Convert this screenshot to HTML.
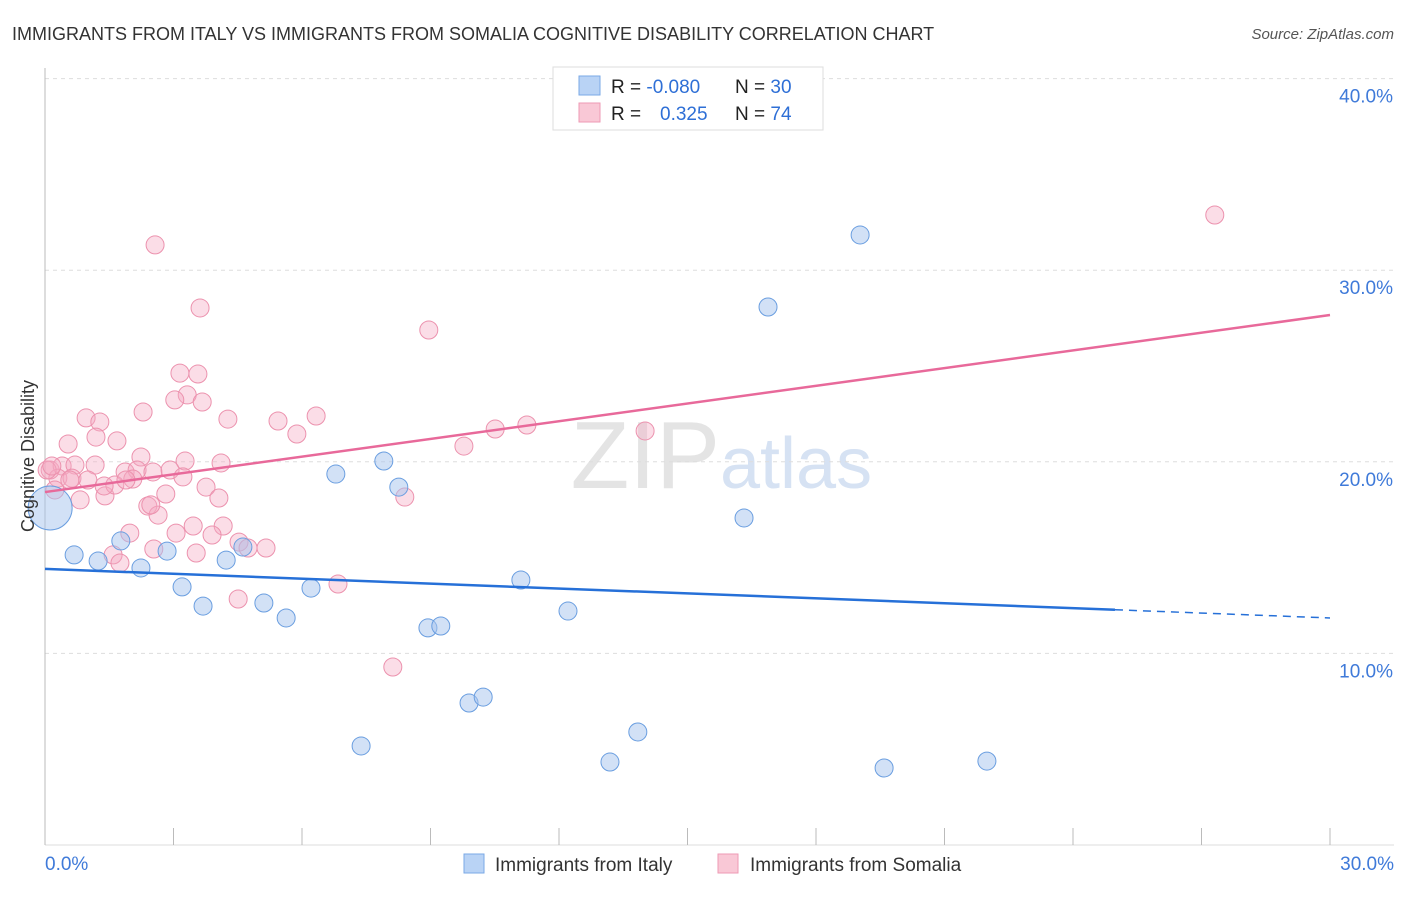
<!DOCTYPE html>
<html><head><meta charset="utf-8"><style>
body{margin:0;background:#fff;font-family:"Liberation Sans",sans-serif;}
svg text{font-family:"Liberation Sans",sans-serif;}
</style></head><body>
<svg id="chart" width="1406" height="892" xmlns="http://www.w3.org/2000/svg">
<text x="12" y="40" font-size="18" fill="#333">IMMIGRANTS FROM ITALY VS IMMIGRANTS FROM SOMALIA COGNITIVE DISABILITY CORRELATION CHART</text>
<text x="1394" y="39" font-size="15" fill="#555" font-style="italic" text-anchor="end">Source: ZipAtlas.com</text>
<text x="720" y="488" font-size="96" fill="#e4e4e4" text-anchor="end" font-family="Liberation Serif">ZIP</text>
<text x="720" y="488" font-size="72" fill="#d6e2f3">atlas</text>
<g id="grid"></g><g id="axes"></g><g id="pts"></g><g id="lines"></g>
<text x="34" y="456" font-size="18" fill="#333" text-anchor="middle" transform="rotate(-90 34 456)">Cognitive Disability</text>
<g>
<rect x="553" y="67" width="270" height="63" fill="#fff" stroke="#ddd"/>
<rect x="579" y="76" width="21" height="19" fill="#b9d3f5" stroke="#7aa8e6"/>
<rect x="579" y="103" width="21" height="19" fill="#f9c8d6" stroke="#ee9ab4"/>
<text x="611" y="93" font-size="19" fill="#222">R = <tspan fill="#2e6fd6">-0.080</tspan><tspan x="735">N = </tspan><tspan fill="#2e6fd6">30</tspan></text>
<text x="611" y="120" font-size="19" fill="#222">R = <tspan x="660" fill="#2e6fd6">0.325</tspan><tspan x="735">N = </tspan><tspan fill="#2e6fd6">74</tspan></text>
</g>
<g>
<rect x="464" y="854" width="20" height="19" fill="#b9d3f5" stroke="#7aa8e6"/>
<text x="495" y="871" font-size="19" fill="#333">Immigrants from Italy</text>
<rect x="718" y="854" width="20" height="19" fill="#f9c8d6" stroke="#ee9ab4"/>
<text x="750" y="871" font-size="19" fill="#333">Immigrants from Somalia</text>
</g>
</svg>
<script>
const yTicks=[10,20,30,40];
const xTickLabels=["0.0%","30.0%"];
const pinkX=[2.57,3.62,8.96,27.31,3.15,3.57,3.32,3.03,3.67,0.96,1.28,2.29,4.27,5.44,6.33,1.19,0.54,1.68,5.88,9.78,10.51,11.25,14.01,2.24,3.27,4.11,0.12,0.40,0.70,1.17,0.30,0.63,1.00,1.87,2.15,2.52,2.92,3.22,0.23,0.82,1.40,1.63,2.05,3.76,2.82,4.06,8.40,2.40,2.64,1.98,3.46,4.16,3.90,3.06,4.53,2.54,3.53,5.16,1.59,1.75,4.51,6.84,8.12,4.74,1.38,0.05,0.16,0.58,1.89,2.47];
const pinkY=[31.32,28.03,26.88,32.88,24.63,24.58,23.49,23.23,23.12,22.29,22.08,22.60,22.23,22.13,22.39,21.29,20.93,21.09,21.45,20.82,21.71,21.92,21.61,20.25,20.04,19.94,19.57,19.78,19.83,19.83,19.15,19.15,19.05,19.47,19.57,19.47,19.57,19.21,18.53,18.01,18.22,18.79,19.10,18.68,18.32,18.11,18.16,17.69,17.22,16.28,16.65,16.65,16.18,16.28,15.81,15.45,15.24,15.50,15.14,14.72,12.84,13.62,9.29,15.50,18.74,19.57,19.78,19.05,19.05,17.75];
const blueX=[19.03,16.88,6.79,7.91,8.26,16.32,0.12,0.68,1.24,1.77,2.24,2.85,3.20,3.69,4.23,4.62,5.11,5.63,6.21,8.94,9.24,11.11,12.21,9.90,10.23,7.38,13.19,13.84,19.59,21.99];
const blueY=[31.84,28.08,19.36,20.04,18.68,17.07,17.59,15.14,14.82,15.87,14.46,15.34,13.47,12.47,14.87,15.55,12.63,11.85,13.41,11.33,11.43,13.83,12.21,7.41,7.72,5.17,4.33,5.90,4.02,4.38];
const blueR=[9,9,9,9,9,9,22,9,9,9,9,9,9,9,9,9,9,9,9,9,9,9,9,9,9,9,9,9,9,9];
const pinkTrend=[18.42,27.66];
const blueTrend=[14.41,11.85];
const blueSolidEnd=24.98;
const NS="http://www.w3.org/2000/svg";
const sx=v=>45+v/30*1285;
const sy=v=>845-v*19.16;
function mk(tag,attrs,parent){const e=document.createElementNS(NS,tag);for(const k in attrs)e.setAttribute(k,attrs[k]);document.getElementById(parent).appendChild(e);return e;}
yTicks.forEach(t=>{
  const g=mk('line',{x1:45,x2:1394,y1:sy(t),y2:sy(t),stroke:'#ddd','stroke-dasharray':'4,4'},'grid');
  
  
  const l=mk('text',{x:1393,y:sy(t)+24,'font-size':19,fill:'#3f7ad9','text-anchor':'end'},'grid');
  l.textContent=t.toFixed(1)+'%';
  
  
});
const ya=mk('line',{x1:45,x2:45,y1:68,y2:845,stroke:'#bbb'},'axes');


const xa=mk('line',{x1:45,x2:1394,y1:845,y2:845,stroke:'#ddd'},'axes');


for(let i=0;i<=10;i++){
  const t=mk('line',{x1:sx(i*3),x2:sx(i*3),y1:828,y2:845,stroke:'#bbb'},'axes');
  
  
}
const xl0=mk('text',{x:45,y:870,'font-size':19,fill:'#3f7ad9'},'axes');
xl0.textContent=xTickLabels[0];


const xl1=mk('text',{x:1394,y:870,'font-size':19,fill:'#3f7ad9','text-anchor':'end'},'axes');
xl1.textContent=xTickLabels[1];


pinkX.forEach((x,i)=>{
  const c=mk('circle',{cx:sx(x),cy:sy(pinkY[i]),r:9,fill:'rgba(246,170,194,0.4)',stroke:'#ec92ae','stroke-width':1},'pts');
  
  
});
blueX.forEach((x,i)=>{
  const c=mk('circle',{cx:sx(x),cy:sy(blueY[i]),r:blueR[i],fill:'rgba(165,195,238,0.5)',stroke:'#6a9ee0','stroke-width':1},'pts');
  
  
});
const pl=mk('line',{x1:sx(0),y1:sy(pinkTrend[0]),x2:sx(30),y2:sy(pinkTrend[1]),stroke:'#e8699a','stroke-width':2.5},'lines');


const bAt=x=>blueTrend[0]+(blueTrend[1]-blueTrend[0])*x/30;
const bl=mk('line',{x1:sx(0),y1:sy(blueTrend[0]),x2:sx(blueSolidEnd),y2:sy(bAt(blueSolidEnd)),stroke:'#2670d8','stroke-width':2.5},'lines');


const bd=mk('line',{x1:sx(blueSolidEnd),y1:sy(bAt(blueSolidEnd)),x2:sx(30),y2:sy(blueTrend[1]),stroke:'#2670d8','stroke-width':1.5,'stroke-dasharray':'8,6'},'lines');


</script>
</body></html>
